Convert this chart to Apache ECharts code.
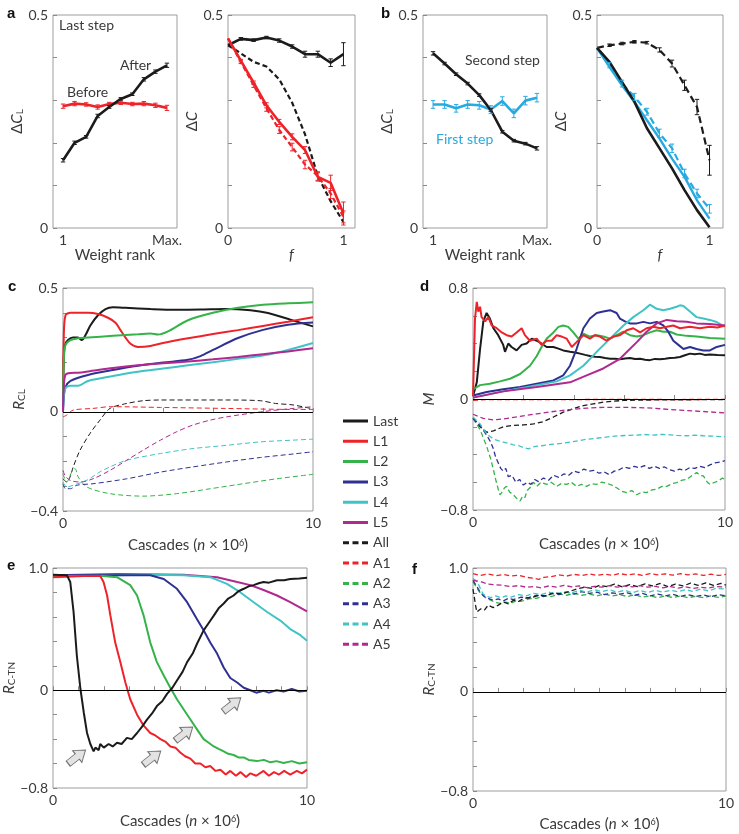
<!DOCTYPE html>
<html><head><meta charset="utf-8">
<script src="https://cdn.jsdelivr.net/npm/echarts@6/dist/echarts.min.js"></script>
<style>html,body{margin:0;padding:0;background:#fff}#c{width:739px;height:834px}</style>
</head><body><div id="c"></div>
<script>
// ---------- DATA ----------
const rankX = [1,2,3,4,5,6,7,8,9,10];
const fracX = [0,0.111,0.222,0.333,0.444,0.556,0.667,0.778,0.889,1];
// panel a (left)
const aAfter = [0.159,0.200,0.214,0.263,0.284,0.303,0.314,0.349,0.367,0.382];
const aAfterErr = [0.004,0.004,0.003,0.004,0.003,0.003,0.003,0.004,0.004,0.005];
const aBefore = [0.286,0.292,0.290,0.284,0.291,0.294,0.291,0.292,0.288,0.282];
const aBeforeErr = [0.005,0.005,0.004,0.005,0.004,0.004,0.004,0.005,0.005,0.006];
// panel a (right)
const aBlackSolid = [0.429,0.444,0.441,0.447,0.440,0.426,0.408,0.408,0.388,0.408];
const aBlackSolidErr = [0,0.003,0.003,0.003,0.004,0.004,0.007,0.007,0.009,0.027];
const aBlackDash = [0.429,0.410,0.390,0.379,0.349,0.294,0.220,0.122,0.063,0.014];
const aRedSolid = [0.445,0.393,0.341,0.288,0.249,0.214,0.183,0.120,0.106,0.034];
const aRedSolidErr = [0,0.003,0.004,0.006,0.006,0.007,0.008,0.010,0.018,0.027];
const aRedDash = [0.445,0.390,0.335,0.281,0.230,0.190,0.149,0.122,0.081,0.026];
const aRedDashErr = [0,0.004,0.005,0.007,0.008,0.009,0.010,0.010,0.012,0.014];
// panel b (left)
const bSecond = [0.410,0.386,0.361,0.339,0.312,0.277,0.226,0.205,0.198,0.187];
const bSecondErr = [0.004,0.003,0.003,0.003,0.003,0.003,0.003,0.003,0.003,0.004];
const bFirst = [0.290,0.290,0.281,0.290,0.288,0.278,0.298,0.269,0.299,0.306];
const bFirstErr = [0.009,0.009,0.009,0.009,0.009,0.009,0.010,0.010,0.010,0.010];
// panel b (right)
const bBlackDash = [0.423,0.429,0.433,0.437,0.435,0.418,0.386,0.335,0.284,0.159];
const bBlackDashErr = [0,0.003,0.003,0.003,0.003,0.005,0.008,0.012,0.018,0.035];
const bBlackSolid = [0.423,0.390,0.343,0.296,0.234,0.187,0.140,0.089,0.042,0.002];
const bCyanSolid = [0.423,0.378,0.335,0.296,0.253,0.210,0.163,0.120,0.065,0.022];
const bCyanDash = [0.423,0.382,0.339,0.308,0.273,0.222,0.187,0.128,0.081,0.045];
const bCyanDashErr = [0,0.006,0.008,0.008,0.008,0.010,0.010,0.010,0.010,0.010];
// panel c  [cascades (x10^6), R_CL]
const cLast = [[0,0],[0.03,0.22],[0.08,0.27],[0.2,0.29],[0.4,0.30],[0.6,0.30],[0.75,0.29],[0.9,0.31],[1.1,0.35],[1.4,0.39],[1.7,0.415],[2.0,0.422],[2.5,0.420],[3.5,0.415],[4.5,0.412],[5.5,0.413],[6.5,0.415],[7.5,0.41],[8.2,0.399],[9.1,0.372],[10,0.345]];
const cL1 = [[0,0],[0.03,0.3],[0.1,0.39],[0.3,0.40],[0.6,0.40],[1.0,0.40],[1.4,0.395],[1.8,0.38],[2.1,0.36],[2.3,0.33],[2.5,0.30],[2.7,0.275],[3.0,0.262],[3.5,0.266],[4.0,0.278],[5.0,0.297],[6.0,0.314],[7.0,0.330],[8.0,0.347],[9.0,0.364],[10,0.382]];
const cL2 = [[0,0],[0.03,0.2],[0.1,0.27],[0.3,0.29],[0.6,0.297],[1.0,0.30],[2.0,0.307],[3.0,0.313],[3.5,0.316],[3.8,0.312],[4.2,0.325],[5.0,0.37],[6.0,0.40],[7.0,0.42],[8.0,0.432],[9.0,0.438],[10,0.442]];
const cL3 = [[0,0],[0.03,0.06],[0.1,0.10],[0.3,0.125],[1,0.149],[2,0.169],[3,0.186],[4,0.199],[5,0.21],[5.5,0.225],[6,0.25],[7,0.298],[8,0.331],[9,0.352],[10,0.361]];
const cL4 = [[0,0],[0.03,0.06],[0.1,0.095],[0.3,0.105],[0.6,0.105],[1,0.125],[2,0.145],[3,0.162],[4,0.175],[5,0.188],[6,0.20],[7,0.214],[8,0.228],[9,0.25],[10,0.278]];
const cL5 = [[0,0],[0.03,0.1],[0.1,0.15],[0.3,0.157],[0.6,0.158],[1,0.163],[2,0.177],[3,0.188],[4,0.196],[5,0.203],[6,0.212],[7,0.222],[8,0.233],[9,0.244],[10,0.257]];
const cAll = [[0,-0.27],[0.15,-0.283],[0.28,-0.263],[0.41,-0.222],[0.68,-0.155],[1.08,-0.087],[1.48,-0.033],[1.88,0.014],[2.55,0.034],[3.2,0.045],[3.9,0.048],[5.2,0.048],[6.55,0.048],[7.9,0.045],[8.5,0.034],[9.2,0.028],[10,0.012]];
const cA1 = [[0,-0.02],[0.15,-0.013],[0.4,0.007],[1.2,0.014],[1.9,0.021],[3.9,0.018],[6.5,0.014],[9.2,0.01],[10,0.01]];
const cA2 = [[0,-0.25],[0.15,-0.283],[0.35,-0.242],[0.48,-0.229],[0.61,-0.263],[0.95,-0.303],[1.88,-0.33],[3.2,-0.34],[4.55,-0.33],[5.9,-0.31],[7.2,-0.29],[8.55,-0.27],[10,-0.252]];
const cA3 = [[0,-0.29],[0.1,-0.31],[0.3,-0.31],[0.55,-0.296],[1.2,-0.29],[2.55,-0.27],[3.9,-0.243],[5.2,-0.222],[6.55,-0.202],[7.9,-0.184],[9.2,-0.17],[10,-0.161]];
const cA4 = [[0,-0.283],[0.15,-0.303],[0.41,-0.296],[0.95,-0.276],[1.48,-0.242],[1.88,-0.222],[2.55,-0.195],[3.9,-0.168],[5.2,-0.148],[6.55,-0.135],[7.9,-0.121],[9.2,-0.114],[10,-0.11]];
const cA5 = [[0,-0.236],[0.08,-0.256],[0.28,-0.276],[0.68,-0.283],[1.2,-0.27],[1.88,-0.236],[2.55,-0.195],[3.2,-0.155],[3.9,-0.114],[4.55,-0.08],[5.2,-0.053],[5.9,-0.033],[6.55,-0.02],[7.9,0],[9.2,0.014],[10,0.021]];
// panel d  [cascades, M]
const dLast = [[0,0.02],[0.15,0.12],[0.28,0.36],[0.41,0.56],[0.54,0.62],[0.67,0.58],[0.81,0.51],[1.0,0.46],[1.2,0.39],[1.27,0.34],[1.4,0.40],[1.53,0.375],[1.73,0.35],[1.93,0.39],[2.13,0.40],[2.33,0.435],[2.53,0.42],[2.72,0.40],[2.92,0.375],[3.19,0.375],[3.39,0.363],[3.58,0.35],[3.85,0.34],[4.05,0.335],[4.25,0.327],[4.45,0.318],[4.64,0.31],[4.84,0.305],[5.04,0.303],[5.24,0.296],[5.44,0.29],[5.64,0.29],[5.83,0.286],[6.03,0.292],[6.23,0.296],[6.43,0.288],[6.63,0.29],[6.83,0.283],[7.02,0.28],[7.22,0.289],[7.42,0.286],[7.62,0.29],[7.82,0.296],[8.01,0.298],[8.21,0.303],[8.41,0.315],[8.61,0.327],[8.8,0.322],[9.0,0.327],[9.2,0.318],[9.4,0.32],[9.7,0.317],[10,0.315]];
const dL1 = [[0,0.02],[0.08,0.58],[0.15,0.70],[0.21,0.63],[0.28,0.665],[0.34,0.59],[0.48,0.56],[0.61,0.59],[0.74,0.53],[0.94,0.51],[1.14,0.48],[1.34,0.46],[1.53,0.45],[1.73,0.48],[1.93,0.51],[2.06,0.46],[2.26,0.42],[2.53,0.435],[2.72,0.39],[2.92,0.42],[3.12,0.42],[3.32,0.46],[3.52,0.45],[3.72,0.435],[3.92,0.375],[4.11,0.41],[4.38,0.46],[4.64,0.435],[4.84,0.46],[5.04,0.45],[5.3,0.42],[5.57,0.45],[5.83,0.46],[6.1,0.495],[6.36,0.51],[6.63,0.48],[6.89,0.51],[7.16,0.52],[7.42,0.51],[7.69,0.52],[7.95,0.53],[8.21,0.51],[8.61,0.52],[9.0,0.51],[9.4,0.52],[9.7,0.515],[10,0.53]];
const dL2 = [[0,0.07],[0.28,0.10],[0.67,0.11],[1.07,0.127],[1.47,0.146],[1.87,0.18],[2.26,0.24],[2.53,0.31],[2.72,0.375],[2.92,0.435],[3.19,0.48],[3.39,0.52],[3.58,0.53],[3.78,0.52],[3.98,0.48],[4.18,0.435],[4.38,0.47],[4.64,0.45],[4.91,0.46],[5.17,0.45],[5.44,0.435],[5.7,0.46],[5.97,0.485],[6.23,0.46],[6.5,0.45],[6.76,0.46],[7.02,0.48],[7.29,0.495],[7.55,0.485],[7.82,0.485],[8.08,0.465],[8.48,0.455],[8.87,0.45],[9.4,0.44],[10,0.435]];
const dL3 = [[0,0.025],[0.54,0.05],[1.2,0.07],[1.87,0.086],[2.53,0.11],[3.19,0.134],[3.58,0.17],[3.85,0.24],[4.11,0.36],[4.38,0.51],[4.64,0.58],[4.91,0.62],[5.17,0.63],[5.44,0.64],[5.7,0.62],[5.83,0.58],[6.03,0.56],[6.23,0.545],[6.5,0.545],[6.76,0.556],[7.02,0.545],[7.29,0.556],[7.55,0.53],[7.75,0.485],[7.95,0.42],[8.15,0.39],[8.35,0.36],[8.61,0.375],[8.87,0.36],[9.14,0.35],[9.4,0.35],[9.67,0.375],[10,0.39]];
const dL4 = [[0,0.01],[1.2,0.055],[2.53,0.1],[3.32,0.127],[3.85,0.17],[4.38,0.24],[4.91,0.34],[5.44,0.435],[5.97,0.53],[6.36,0.59],[6.76,0.64],[7.02,0.68],[7.29,0.65],[7.55,0.64],[7.82,0.65],[8.08,0.665],[8.21,0.675],[8.35,0.67],[8.61,0.63],[8.87,0.59],[9.14,0.58],[9.4,0.57],[9.67,0.555],[10,0.52]];
const dL5 = [[0,0.01],[1.2,0.055],[2.53,0.086],[3.85,0.12],[4.51,0.17],[5.17,0.22],[5.83,0.29],[6.5,0.41],[6.89,0.485],[7.29,0.545],[7.69,0.57],[8.08,0.56],[8.48,0.556],[8.87,0.545],[9.4,0.54],[10,0.53]];
const dAll = [[0,-0.14],[0.28,-0.20],[0.54,-0.24],[0.81,-0.23],[1.2,-0.20],[1.6,-0.19],[2.0,-0.187],[2.4,-0.18],[2.79,-0.163],[3.19,-0.13],[3.58,-0.095],[3.98,-0.07],[4.38,-0.047],[4.77,-0.035],[5.17,-0.023],[5.57,-0.016],[5.97,-0.01],[6.5,-0.008],[7.82,-0.006],[10,-0.004]];
const dA1 = [[0,-0.01],[0.5,-0.005],[2,-0.004],[4,-0.004],[6,-0.003],[8,-0.004],[10,-0.003]];
const dA2 = [[0,-0.14],[0.28,-0.22],[0.54,-0.34],[0.7,-0.43],[0.81,-0.51],[0.9,-0.58],[1.0,-0.65],[1.07,-0.69],[1.14,-0.675],[1.25,-0.64],[1.34,-0.63],[1.45,-0.67],[1.6,-0.69],[1.75,-0.72],[1.87,-0.735],[1.97,-0.7],[2.06,-0.71],[2.15,-0.66],[2.26,-0.64],[2.4,-0.6],[2.53,-0.63],[2.7,-0.6],[2.92,-0.615],[3.1,-0.6],[3.32,-0.63],[3.5,-0.61],[3.72,-0.615],[3.9,-0.6],[4.11,-0.63],[4.3,-0.615],[4.51,-0.63],[4.7,-0.61],[4.91,-0.615],[5.1,-0.6],[5.3,-0.607],[5.5,-0.62],[5.7,-0.64],[5.9,-0.665],[6.1,-0.675],[6.3,-0.66],[6.5,-0.69],[6.7,-0.67],[6.89,-0.675],[7.1,-0.655],[7.29,-0.65],[7.5,-0.63],[7.69,-0.63],[7.9,-0.61],[8.08,-0.603],[8.3,-0.585],[8.48,-0.58],[8.7,-0.55],[8.88,-0.53],[9.0,-0.55],[9.14,-0.554],[9.3,-0.6],[9.4,-0.615],[9.6,-0.6],[9.74,-0.59],[9.9,-0.57],[10,-0.58]];
const dA3 = [[0,-0.14],[0.28,-0.19],[0.54,-0.26],[0.7,-0.31],[0.81,-0.36],[0.9,-0.42],[1.0,-0.46],[1.1,-0.5],[1.2,-0.52],[1.3,-0.5],[1.4,-0.56],[1.55,-0.55],[1.7,-0.6],[1.85,-0.58],[2.0,-0.62],[2.15,-0.6],[2.3,-0.615],[2.45,-0.58],[2.6,-0.595],[2.8,-0.57],[3.0,-0.585],[3.2,-0.55],[3.4,-0.565],[3.6,-0.54],[3.8,-0.55],[4.0,-0.52],[4.2,-0.53],[4.4,-0.505],[4.6,-0.52],[4.8,-0.515],[5.0,-0.535],[5.2,-0.525],[5.4,-0.545],[5.6,-0.52],[5.8,-0.51],[6.0,-0.49],[6.2,-0.5],[6.4,-0.485],[6.6,-0.495],[6.8,-0.48],[7.0,-0.5],[7.2,-0.485],[7.4,-0.5],[7.6,-0.49],[7.8,-0.51],[8.0,-0.52],[8.2,-0.505],[8.4,-0.515],[8.6,-0.495],[8.8,-0.5],[9.0,-0.485],[9.2,-0.495],[9.4,-0.475],[9.6,-0.46],[9.8,-0.455],[10,-0.445]];
const dA4 = [[0,-0.13],[0.28,-0.18],[0.54,-0.25],[0.81,-0.29],[1.0,-0.3],[1.2,-0.31],[1.4,-0.32],[1.6,-0.33],[1.8,-0.335],[2.0,-0.35],[2.2,-0.36],[2.4,-0.345],[2.53,-0.34],[2.8,-0.335],[3.19,-0.325],[3.5,-0.32],[3.85,-0.31],[4.2,-0.3],[4.51,-0.29],[4.8,-0.285],[5.17,-0.277],[5.5,-0.27],[5.83,-0.265],[6.2,-0.262],[6.5,-0.26],[6.8,-0.256],[7.16,-0.26],[7.5,-0.255],[7.82,-0.258],[8.1,-0.262],[8.48,-0.265],[8.8,-0.26],[9.14,-0.265],[9.5,-0.268],[10,-0.272]];
const dA5 = [[0,-0.11],[0.41,-0.14],[0.81,-0.15],[1.2,-0.144],[1.87,-0.125],[2.53,-0.107],[3.19,-0.09],[3.85,-0.076],[4.51,-0.066],[5.17,-0.06],[5.83,-0.06],[6.5,-0.062],[7.16,-0.066],[7.82,-0.076],[8.48,-0.083],[9.14,-0.09],[10,-0.1]];
// panel e  [cascades, R_C-TN]
const eLast = [[0,0.945],[0.55,0.94],[0.68,0.885],[0.81,0.64],[0.94,0.28],[1.08,0.01],[1.21,-0.18],[1.34,-0.35],[1.47,-0.44],[1.6,-0.5],[1.67,-0.47],[1.8,-0.49],[1.86,-0.44],[2.0,-0.47],[2.19,-0.44],[2.35,-0.46],[2.52,-0.43],[2.7,-0.44],[2.91,-0.39],[3.1,-0.40],[3.31,-0.35],[3.5,-0.30],[3.70,-0.24],[3.9,-0.19],[4.09,-0.13],[4.3,-0.09],[4.49,-0.03],[4.7,0.02],[4.88,0.08],[5.1,0.15],[5.28,0.23],[5.5,0.30],[5.67,0.38],[5.93,0.49],[6.13,0.55],[6.33,0.61],[6.52,0.67],[6.72,0.71],[6.9,0.75],[7.11,0.775],[7.3,0.81],[7.51,0.83],[7.7,0.85],[7.90,0.86],[8.1,0.875],[8.29,0.885],[8.5,0.88],[8.82,0.9],[9.1,0.9],[9.34,0.91],[9.7,0.915],[10,0.92]];
const eL1 = [[0,0.925],[1.21,0.935],[1.86,0.935],[1.99,0.885],[2.13,0.775],[2.26,0.61],[2.45,0.39],[2.65,0.23],[2.85,0.063],[3.04,-0.074],[3.31,-0.2],[3.57,-0.29],[3.83,-0.35],[4.03,-0.37],[4.23,-0.40],[4.42,-0.42],[4.62,-0.46],[4.82,-0.47],[5.01,-0.51],[5.2,-0.54],[5.41,-0.56],[5.6,-0.6],[5.8,-0.6],[6.0,-0.63],[6.19,-0.62],[6.4,-0.66],[6.59,-0.65],[6.8,-0.69],[6.98,-0.66],[7.2,-0.7],[7.38,-0.67],[7.6,-0.71],[7.77,-0.68],[8.0,-0.7],[8.29,-0.66],[8.5,-0.7],[8.7,-0.67],[8.9,-0.69],[9.1,-0.66],[9.34,-0.69],[9.6,-0.66],[9.8,-0.68],[10,-0.65]];
const eL2 = [[0,0.935],[1.97,0.935],[2.52,0.925],[3.04,0.86],[3.31,0.775],[3.57,0.61],[3.83,0.39],[4.09,0.23],[4.36,0.12],[4.62,0.02],[4.88,-0.074],[5.14,-0.156],[5.41,-0.24],[5.67,-0.32],[5.93,-0.40],[6.13,-0.43],[6.33,-0.46],[6.52,-0.48],[6.72,-0.50],[6.9,-0.52],[7.11,-0.53],[7.3,-0.55],[7.51,-0.55],[7.7,-0.57],[8.03,-0.58],[8.3,-0.57],[8.56,-0.59],[8.8,-0.58],[9.08,-0.595],[9.4,-0.58],[9.7,-0.6],[10,-0.59]];
const eL3 = [[0,0.94],[3.83,0.94],[4.36,0.91],[4.88,0.83],[5.28,0.72],[5.67,0.58],[5.93,0.49],[6.19,0.39],[6.46,0.30],[6.72,0.186],[6.98,0.10],[7.25,0.063],[7.51,0.02],[7.77,0.0],[8.0,-0.02],[8.29,-0.005],[8.5,-0.02],[8.8,0.0],[9.08,-0.01],[9.4,0.01],[9.7,-0.01],[10,-0.005]];
const eL4 = [[0,0.935],[3.83,0.945],[5.14,0.94],[6.19,0.925],[6.85,0.87],[7.38,0.8],[7.9,0.72],[8.43,0.64],[8.95,0.57],[9.34,0.5],[9.74,0.45],[10,0.405]];
const eL5 = [[0,0.94],[2.52,0.95],[5.14,0.945],[6.46,0.925],[7.25,0.885],[7.77,0.86],[8.29,0.82],[8.82,0.775],[9.34,0.72],[10,0.645]];
const eArrows = [[0.94,-0.545],[3.9,-0.553],[5.16,-0.356],[7.05,-0.118]];
// panel f  [cascades, R_C-TN]
const fAll = [[0,0.83],[0.1,0.7],[0.15,0.645],[0.3,0.67],[0.45,0.66],[0.6,0.7],[0.8,0.68],[1.0,0.7],[1.2,0.725],[1.4,0.71],[1.6,0.74],[1.8,0.73],[2.0,0.755],[2.3,0.76],[2.6,0.78],[2.9,0.775],[3.2,0.8],[3.5,0.79],[3.8,0.81],[4.1,0.83],[4.4,0.845],[4.7,0.835],[5.0,0.86],[5.3,0.85],[5.6,0.87],[5.9,0.848],[6.2,0.865],[6.5,0.85],[6.8,0.872],[7.1,0.855],[7.4,0.875],[7.7,0.85],[8.0,0.87],[8.3,0.855],[8.6,0.878],[8.9,0.86],[9.2,0.88],[9.5,0.86],[9.8,0.875],[10,0.862]];
const fA1 = [[0,0.955],[0.3,0.94],[0.6,0.952],[0.9,0.938],[1.2,0.948],[1.5,0.935],[1.8,0.942],[2.1,0.925],[2.4,0.918],[2.6,0.908],[2.8,0.925],[3.1,0.93],[3.4,0.945],[3.7,0.935],[4.0,0.948],[4.3,0.94],[4.6,0.952],[4.9,0.94],[5.2,0.95],[5.5,0.942],[5.8,0.955],[6.1,0.943],[6.4,0.952],[6.7,0.94],[7.0,0.955],[7.3,0.945],[7.6,0.953],[7.9,0.942],[8.2,0.955],[8.5,0.944],[8.8,0.952],[9.1,0.94],[9.4,0.95],[9.7,0.94],[10,0.948]];
const fA2 = [[0,0.887],[0.15,0.84],[0.3,0.793],[0.5,0.76],[0.7,0.74],[0.9,0.72],[1.1,0.715],[1.3,0.725],[1.5,0.715],[1.7,0.735],[1.9,0.73],[2.2,0.75],[2.5,0.755],[2.8,0.775],[3.1,0.77],[3.4,0.79],[3.7,0.78],[4.0,0.795],[4.3,0.78],[4.6,0.79],[4.9,0.775],[5.2,0.79],[5.5,0.775],[5.8,0.785],[6.1,0.77],[6.4,0.785],[6.7,0.765],[7.0,0.775],[7.3,0.76],[7.6,0.775],[7.9,0.762],[8.2,0.775],[8.5,0.76],[8.8,0.772],[9.1,0.76],[9.4,0.775],[9.7,0.762],[10,0.775]];
const fA3 = [[0,0.9],[0.15,0.85],[0.3,0.8],[0.45,0.77],[0.6,0.755],[0.8,0.74],[1.0,0.75],[1.2,0.735],[1.4,0.755],[1.6,0.745],[1.9,0.765],[2.2,0.76],[2.5,0.78],[2.8,0.77],[3.1,0.795],[3.4,0.785],[3.7,0.805],[4.0,0.79],[4.3,0.81],[4.6,0.795],[4.9,0.805],[5.2,0.785],[5.5,0.8],[5.8,0.79],[6.1,0.8],[6.4,0.78],[6.7,0.795],[7.0,0.775],[7.3,0.79],[7.6,0.775],[7.9,0.788],[8.2,0.77],[8.5,0.785],[8.8,0.77],[9.1,0.782],[9.4,0.768],[9.7,0.785],[10,0.775]];
const fA4 = [[0,0.914],[0.1,0.9],[0.2,0.875],[0.3,0.83],[0.4,0.79],[0.55,0.77],[0.7,0.76],[0.9,0.775],[1.1,0.76],[1.3,0.775],[1.5,0.765],[1.8,0.785],[2.1,0.775],[2.4,0.795],[2.7,0.785],[3.0,0.805],[3.3,0.79],[3.6,0.81],[3.9,0.8],[4.2,0.82],[4.5,0.805],[4.8,0.825],[5.1,0.81],[5.4,0.825],[5.7,0.805],[6.0,0.82],[6.3,0.8],[6.6,0.818],[6.9,0.802],[7.2,0.82],[7.5,0.805],[7.8,0.82],[8.1,0.808],[8.4,0.825],[8.7,0.81],[9.0,0.83],[9.3,0.815],[9.6,0.835],[10,0.83]];
const fA5 = [[0,0.9],[0.3,0.89],[0.6,0.87],[0.9,0.865],[1.2,0.86],[1.5,0.85],[1.8,0.858],[2.1,0.845],[2.4,0.85],[2.7,0.84],[3.0,0.855],[3.3,0.845],[3.6,0.86],[3.9,0.848],[4.2,0.855],[4.5,0.842],[4.8,0.852],[5.1,0.845],[5.4,0.858],[5.7,0.845],[6.0,0.855],[6.3,0.848],[6.6,0.858],[6.9,0.845],[7.2,0.852],[7.5,0.84],[7.8,0.85],[8.1,0.838],[8.4,0.848],[8.7,0.835],[9.0,0.845],[9.3,0.838],[9.6,0.85],[10,0.845]];
// legend / tick labels
const legendNames = ['Last','L1','L2','L3','L4','L5','All','A1','A2','A3','A4','A5'];
const rankLabels = ['1','Max.'];

// ---------- STYLE ----------
const FONT = 'Lato, "Open Sans", "DejaVu Sans", sans-serif';
const TXT = '#3a3a3a';
const K='#1b1b1b', R='#ee2329', G='#35b34a', B='#2e3192', C='#40c3c4', M='#b1288f', SKY='#27aae1';
const colorOf = {Last:K,L1:R,L2:G,L3:B,L4:C,L5:M,All:K,A1:R,A2:G,A3:B,A4:C,A5:M};

const rich = {
  n:{fontSize:15,color:TXT,fontFamily:FONT,lineHeight:20,verticalAlign:'bottom'},
  i:{fontSize:15,color:TXT,fontFamily:FONT,fontStyle:'italic',lineHeight:20,verticalAlign:'bottom'},
  s:{fontSize:10,color:TXT,fontFamily:FONT,lineHeight:8,verticalAlign:'bottom'},
  p:{fontSize:9,color:TXT,fontFamily:FONT,lineHeight:9,verticalAlign:'middle'}
};
const nameStyle = {fontSize:15,color:TXT,fontFamily:FONT,rich};

function fmtNum(v){ if (v===1) return '1.0'; return v<0 ? '\u2212'+Math.abs(v) : String(v); }

const grids = [
  {left:53,top:15,width:124,height:213},
  {left:228,top:15,width:127,height:213},
  {left:423,top:15,width:124,height:213},
  {left:597,top:15,width:126,height:213},
  {left:63,top:288,width:250,height:223},
  {left:473,top:288,width:252,height:222},
  {left:53,top:568,width:254,height:220},
  {left:473,top:568,width:253,height:223}
].map(g=>Object.assign({show:true,borderColor:'#9d9d9d',borderWidth:1,backgroundColor:'transparent'},g));

function xAx(gi,min,max,interval,vals,fmt,name,gap,tick){
  return {gridIndex:gi,type:'value',min,max,interval,
    axisLine:{show:false},splitLine:{show:false},
    axisTick:{show:tick,inside:true,length:4,lineStyle:{color:'#8a8a8a'}},
    axisLabel:{customValues:vals,formatter:fmt,margin:5,fontSize:14,color:TXT,fontFamily:FONT},
    name,nameLocation:'middle',nameGap:gap,nameTextStyle:nameStyle};
}
function yAx(gi,min,max,interval,vals,name,gap){
  return {gridIndex:gi,type:'value',min,max,interval,
    axisLine:{show:false},splitLine:{show:false},
    axisTick:{show:true,inside:true,length:4,lineStyle:{color:'#8a8a8a'}},
    axisLabel:{customValues:vals,formatter:fmtNum,margin:5,fontSize:14,color:TXT,fontFamily:FONT},
    name,nameLocation:'middle',nameGap:gap,nameTextStyle:nameStyle};
}
const cascName = '{n|Cascades (}{i|n}{n| \u00d7 10}{p|6}{n|)}';
const xAxes = [
  xAx(0,0.13,10.87,null,[1,10],v=>v===10?rankLabels[1]:rankLabels[0],'Weight rank',14,false),
  xAx(1,0,1.1,null,[0,1],v=>String(v),'{i|f}',14,false),
  xAx(2,0.13,10.87,null,[1,10],v=>v===10?rankLabels[1]:rankLabels[0],'Weight rank',14,false),
  xAx(3,0,1.12,null,[0,1],v=>String(v),'{i|f}',14,false),
  xAx(4,0,10,2,[0,10],v=>String(v),cascName,22,true),
  xAx(5,0,10,2,[0,10],v=>String(v),cascName,22,true),
  xAx(6,0,10,1,[0,10],v=>String(v),cascName,21,true),
  xAx(7,0,10,1,[0,10],v=>String(v),cascName,21,true)
];
const yAxes = [
  yAx(0,0,0.5,0.1,[0,0.5],'{n|\u0394}{i|C}{s|L}',11),
  yAx(1,0,0.5,0.1,[0,0.5],'{n|\u0394}{i|C}',13),
  yAx(2,0,0.5,0.1,[0,0.5],'{n|\u0394}{i|C}{s|L}',11),
  yAx(3,0,0.5,0.1,[0,0.5],'{n|\u0394}{i|C}',13),
  yAx(4,-0.4,0.5,0.1,[-0.4,0,0.5],'{i|R}{s|CL}',21),
  yAx(5,-0.8,0.8,0.2,[-0.8,0,0.8],'{i|M}',18),
  yAx(6,-0.8,1.0,0.2,[-0.8,0,1],'{i|R}{s|C-TN}',22),
  yAx(7,-0.8,1.0,0.2,[-0.8,0,1],'{i|R}{s|C-TN}',22)
];

function line(gi,name,data,color,width,dash,opts){
  return Object.assign({type:'line',name,xAxisIndex:gi,yAxisIndex:gi,data,symbol:'none',showSymbol:false,
    color,itemStyle:{color},lineStyle:{color,width,type:dash?dash:'solid'},
    animation:false,silent:true,z:3},opts||{});
}
function pairs(xs,ys){ return xs.map((x,i)=>[x,ys[i]]); }
function errs(gi,xs,ys,es,color,lw){
  return {type:'custom',xAxisIndex:gi,yAxisIndex:gi,silent:true,z:6,animation:false,
    data:xs.map((x,i)=>[x,ys[i],es[i]]),
    renderItem:(p,api)=>{
      const x=api.value(0),y=api.value(1),e=api.value(2);
      if(!e) return {type:'group',children:[]};
      const a=api.coord([x,y+e]), b=api.coord([x,y-e]), w=2.2;
      const st={stroke:color,lineWidth:lw};
      return {type:'group',children:[
        {type:'line',shape:{x1:a[0],y1:a[1],x2:b[0],y2:b[1]},style:st},
        {type:'line',shape:{x1:a[0]-w,y1:a[1],x2:a[0]+w,y2:a[1]},style:st},
        {type:'line',shape:{x1:b[0]-w,y1:b[1],x2:b[0]+w,y2:b[1]},style:st}]};
    }};
}
const zeroLine = {silent:true,symbol:'none',label:{show:false},animation:false,
  lineStyle:{color:'#000',width:1,type:'solid'},data:[{yAxis:0}]};
const arrowPath = 'path://M0,5 L11,5 L11,0 L21,9 L11,18 L11,13 L0,13 Z';

const series = [
  // a left
  line(0,'aBefore',pairs(rankX,aBefore),R,2.6),
  line(0,'aAfter',pairs(rankX,aAfter),K,2.6),
  errs(0,rankX,aBefore,aBeforeErr,R,1),
  errs(0,rankX,aAfter,aAfterErr,K,1),
  // a right
  line(1,'aBS',pairs(fracX,aBlackSolid),K,2.6),
  line(1,'aBD',pairs(fracX,aBlackDash),K,2.2,[5,3]),
  line(1,'aRD',pairs(fracX,aRedDash),R,2.2,[5,3]),
  line(1,'aRS',pairs(fracX,aRedSolid),R,2.6),
  errs(1,fracX,aBlackSolid,aBlackSolidErr,K,1),
  errs(1,fracX,aRedSolid,aRedSolidErr,R,1),
  errs(1,fracX,aRedDash,aRedDashErr,R,1),
  // b left
  line(2,'bFirst',pairs(rankX,bFirst),SKY,2.6),
  line(2,'bSecond',pairs(rankX,bSecond),K,2.6),
  errs(2,rankX,bFirst,bFirstErr,SKY,1),
  errs(2,rankX,bSecond,bSecondErr,K,1),
  // b right
  line(3,'bBD',pairs(fracX,bBlackDash),K,2.2,[7,4]),
  line(3,'bCD',pairs(fracX,bCyanDash),SKY,2.2,[7,4]),
  line(3,'bCS',pairs(fracX,bCyanSolid),SKY,2.4),
  line(3,'bBS',pairs(fracX,bBlackSolid),K,2.6),
  errs(3,fracX,bBlackDash,bBlackDashErr,K,1),
  errs(3,fracX,bCyanDash,bCyanDashErr,SKY,1),
];
// panel c
const cSolid = {Last:cLast,L1:cL1,L2:cL2,L3:cL3,L4:cL4,L5:cL5};
const cDash = {All:cAll,A1:cA1,A2:cA2,A3:cA3,A4:cA4,A5:cA5};
series.push(line(4,'zero-c',[],K,1,null,{markLine:zeroLine}));
Object.keys(cDash).forEach(k=>series.push(line(4,k,cDash[k],colorOf[k],1,[5,3],{smooth:0.3})));
Object.keys(cSolid).forEach(k=>series.push(line(4,k,cSolid[k],colorOf[k],2,null,{smooth:0.3})));
// panel d
const dSolid = {Last:dLast,L1:dL1,L2:dL2,L3:dL3,L4:dL4,L5:dL5};
const dDash = {All:dAll,A1:dA1,A2:dA2,A3:dA3,A4:dA4,A5:dA5};
series.push(line(5,'zero-d',[],K,1,null,{markLine:zeroLine}));
Object.keys(dDash).forEach(k=>series.push(line(5,k,dDash[k],colorOf[k],1.3,[5,3])));
['Last','L2','L3','L4','L5','L1'].forEach(k=>series.push(line(5,k,dSolid[k],colorOf[k],2)));
// panel e
const eSolid = {Last:eLast,L1:eL1,L2:eL2,L3:eL3,L4:eL4,L5:eL5};
series.push(line(6,'zero-e',[],K,1,null,{markLine:zeroLine}));
['L5','L4','L3','L2','L1','Last'].forEach(k=>series.push(line(6,k,eSolid[k],colorOf[k],2)));
series.push({type:'scatter',name:'arrows',xAxisIndex:6,yAxisIndex:6,silent:true,animation:false,z:8,
  data:eArrows,symbol:arrowPath,symbolSize:[22,15],symbolRotate:38,
  itemStyle:{color:'#dcdcdc',borderColor:'#555',borderWidth:1}});
// panel f
const fDash = {All:fAll,A1:fA1,A2:fA2,A3:fA3,A4:fA4,A5:fA5};
series.push(line(7,'zero-f',[],K,1,null,{markLine:zeroLine}));
['A2','A3','A4','All','A5','A1'].forEach(k=>series.push(line(7,k,fDash[k],colorOf[k],1.3,[5,3])));

// legend icons: a 25x12 box holding a 3px bar (solid) or three dashes
const solidIcon = 'path://M0,0L0.01,0L0.01,0.01Z M0,12L0.01,12L0.01,11.99Z M0,4.5L25,4.5L25,7.5L0,7.5Z';
const dashIcon = 'path://M0,0L0.01,0L0.01,0.01Z M0,12L0.01,12L0.01,11.99Z M0,4.5L6,4.5L6,7.5L0,7.5Z M9.5,4.5L15.5,4.5L15.5,7.5L9.5,7.5Z M19,4.5L25,4.5L25,7.5L19,7.5Z';
const legend = {orient:'vertical',left:338,top:409,itemWidth:25,itemHeight:12,itemGap:6.3,
  selectedMode:false,textStyle:{fontSize:14,color:TXT,fontFamily:FONT},
  data:legendNames.map((n,i)=>({name:n,icon:i<6?solidIcon:dashIcon,
    itemStyle:{color:colorOf[n],borderWidth:0}}))};

function txt(x,y,t,font,fill){return {type:'text',x,y,silent:true,
  style:{text:t,font,fill:fill||TXT,align:'left',verticalAlign:'middle'}};}
const LBL = 'bold 15px "Liberation Sans", Arial, sans-serif';
const ANN = '14px Lato, "Open Sans", sans-serif';
const graphic = [
  txt(7,14,'a',LBL,'#111'), txt(381,14,'b',LBL,'#111'),
  txt(8,287,'c',LBL,'#111'), txt(420,287,'d',LBL,'#111'),
  txt(7,566,'e',LBL,'#111'), txt(412,570,'f',LBL,'#111'),
  txt(59,25,'Last step',ANN), txt(120,65,'After',ANN), txt(67,92,'Before',ANN),
  txt(465,60,'Second step',ANN), txt(436,139,'First step',ANN,SKY)
];

const chart = echarts.init(document.getElementById('c'),null,{renderer:'canvas'});
chart.setOption({animation:false,grid:grids,xAxis:xAxes,yAxis:yAxes,series,legend,graphic});
</script></body></html>
